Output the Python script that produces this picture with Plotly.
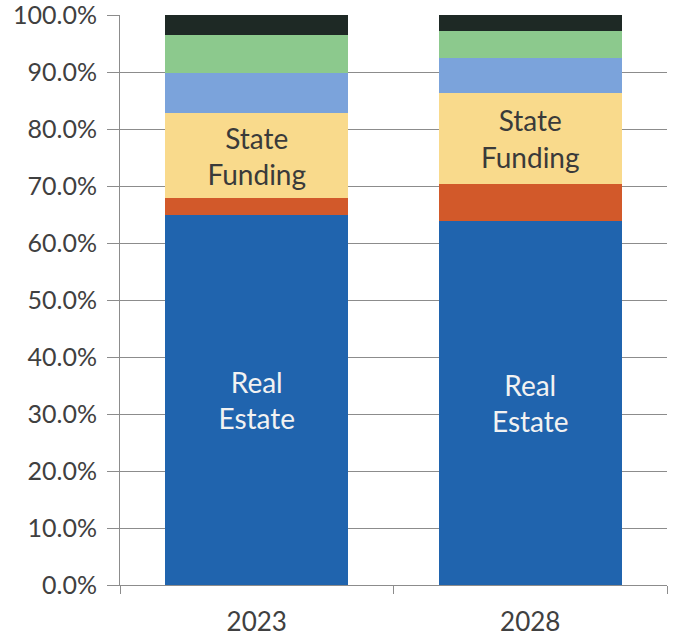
import plotly.graph_objects as go

# ── Datos (porcentaje de cada fuente) ─────────────────────────────────────
years = ["2023", "2028"]
real_estate = [64.9, 63.9]
other_local = [3.0, 6.5]
state_funding = [14.9, 15.9]
federal = [7.0, 6.2]
other_a = [6.7, 4.7]
other_b = [3.5, 2.8]

y_ticks = [0, 10, 20, 30, 40, 50, 60, 70, 80, 90, 100]
y_labels = [f"{v:.1f}%" for v in y_ticks]

series = [
    ("Real Estate", real_estate, "#2064AE", "Real<br>Estate", "#F2F2F2"),
    ("Other local", other_local, "#D2592A", "", "#333333"),
    ("State Funding", state_funding, "#F9DA8C", "State<br>Funding", "#3A3A3A"),
    ("Federal", federal, "#7BA3DB", "", "#333333"),
    ("Other", other_a, "#8CC98D", "", "#333333"),
    ("Misc", other_b, "#1E2925", "", "#333333"),
]

GRID = "#8C8C8C"
TXT = "#404040"
FONT = "Lato, Open Sans, sans-serif"

fig = go.Figure()
for name, vals, color, label, lcolor in series:
    fig.add_trace(go.Bar(
        x=years,
        y=vals,
        name=name,
        marker=dict(color=color, line=dict(width=0)),
        text=[label] * len(years) if label else None,
        textposition="inside" if label else "none",
        insidetextanchor="middle",
        textfont=dict(size=28, color=lcolor, family=FONT),
        hoverinfo="name+y",
    ))

fig.update_layout(
    width=673, height=638,
    barmode="stack",
    bargap=0.33,
    showlegend=False,
    paper_bgcolor="white",
    plot_bgcolor="white",
    margin=dict(t=15, b=53, l=120, r=6),
    font=dict(family=FONT, color=TXT, size=26),
    uniformtext=dict(minsize=24, mode="show"),
)

fig.update_yaxes(
    range=[0, 100.05], tickvals=y_ticks, ticktext=y_labels,
    showgrid=True, gridcolor=GRID, gridwidth=1,
    showline=True, linecolor=GRID, linewidth=1,
    ticks="outside", ticklen=12, tickcolor=GRID,
    ticklabelstandoff=5, ticklabeloverflow="allow",
    zeroline=False, tickfont=dict(size=25, color=TXT),
    automargin=False,
)
fig.update_xaxes(
    showline=True, linecolor=GRID, linewidth=1,
    ticks="outside", tickson="boundaries", ticklen=8, tickcolor=GRID,
    ticklabelstandoff=14, ticklabeloverflow="allow",
    tickfont=dict(size=26, color=TXT),
    automargin=False,
)

fig.write_html("out.html", config={"displayModeBar": False},
               post_script="document.body.style.margin='0';")
